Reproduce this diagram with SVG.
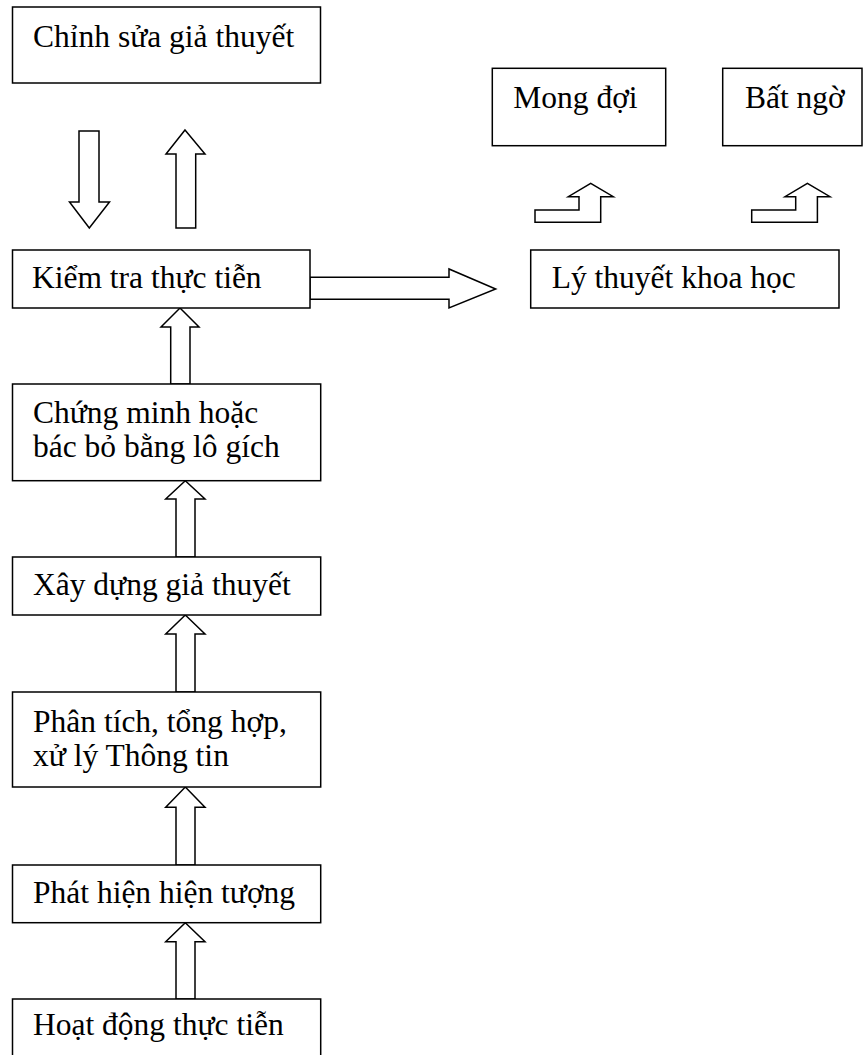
<svg xmlns="http://www.w3.org/2000/svg" width="865" height="1055" viewBox="0 0 865 1055">
<style>
.box{fill:#fff;stroke:#000;stroke-width:1.5}
.arr{fill:#fff;stroke:#000;stroke-width:1.5;stroke-linejoin:miter}
text{font-family:"Liberation Serif","Times New Roman",serif;font-size:31.5px;fill:#000}
</style>
<rect width="865" height="1055" fill="#fff"/>
<g id="connectors">
<path class="arr" d="M79,131 H99 V202 H109.5 L89.3,228 L69.5,202 H79 Z"/>
<path class="arr" d="M185,130 L205,154 H195.7 V228 H176 V154 H166 Z"/>
<path class="arr" d="M310,277.3 H449 V269 L495.7,289 L449,308 V299.3 H310 Z"/>
<path class="arr" d="M180,308 L199,327 H190 V384 H170.7 V327 H161 Z"/>
<path class="arr" d="M185.3,480.7 L205,499 H195 V557 H176 V499 H165.7 Z"/>
<path class="arr" d="M185.3,615 L205,634 H195 V692 H176 V634 H165.7 Z"/>
<path class="arr" d="M185.3,787 L205,807.3 H195 V865 H176 V807.3 H165.7 Z"/>
<path class="arr" d="M185.3,922.7 L205,941.7 H195 V999 H176 V941.7 H165.7 Z"/>
<path class="arr" d="M535,222.3 V210 H579 V196.7 H568.3 L590.7,183.3 L613.3,196.7 H600.7 V222.3 Z"/>
<path class="arr" d="M751.7,222.3 V210 H795.7 V196.7 H785 L807.4,183.3 L830,196.7 H817.4 V222.3 Z"/>
</g>
<g id="n-chinh-sua">
<rect class="box" x="12.5" y="7" width="308" height="76"/>
<text x="33" y="47">Chỉnh sửa giả thuyết</text>
</g>
<g id="n-mong-doi">
<rect class="box" x="492.3" y="68.3" width="173.4" height="77.4"/>
<text x="513.3" y="108.3">Mong đợi</text>
</g>
<g id="n-bat-ngo">
<rect class="box" x="722.7" y="68.3" width="139.3" height="77.4"/>
<text x="745" y="108.3">Bất ngờ</text>
</g>
<g id="n-kiem-tra">
<rect class="box" x="12.5" y="250" width="297.5" height="58"/>
<text x="32" y="288">Kiểm tra thực tiễn</text>
</g>
<g id="n-ly-thuyet">
<rect class="box" x="530.7" y="250" width="308.3" height="58"/>
<text x="551.7" y="288.3">Lý thuyết khoa học</text>
</g>
<g id="n-chung-minh">
<rect class="box" x="12.5" y="384" width="308.2" height="96.7"/>
<text x="33" y="422.5">Chứng minh hoặc</text>
<text x="33" y="456.5">bác bỏ bằng lô gích</text>
</g>
<g id="n-xay-dung">
<rect class="box" x="12.5" y="557" width="308.2" height="58"/>
<text x="33" y="595">Xây dựng giả thuyết</text>
</g>
<g id="n-phan-tich">
<rect class="box" x="12.5" y="692" width="308.2" height="95"/>
<text x="33" y="731.5">Phân tích, tổng hợp,</text>
<text x="33" y="765.5">xử lý Thông tin</text>
</g>
<g id="n-phat-hien">
<rect class="box" x="12.5" y="865" width="308.2" height="57.7"/>
<text x="33" y="903.3">Phát hiện hiện tượng</text>
</g>
<g id="n-hoat-dong">
<path class="box" d="M12.5,1060 V999 H320.7 V1060"/>
<text x="33" y="1035">Hoạt động thực tiễn</text>
</g>
</svg>
